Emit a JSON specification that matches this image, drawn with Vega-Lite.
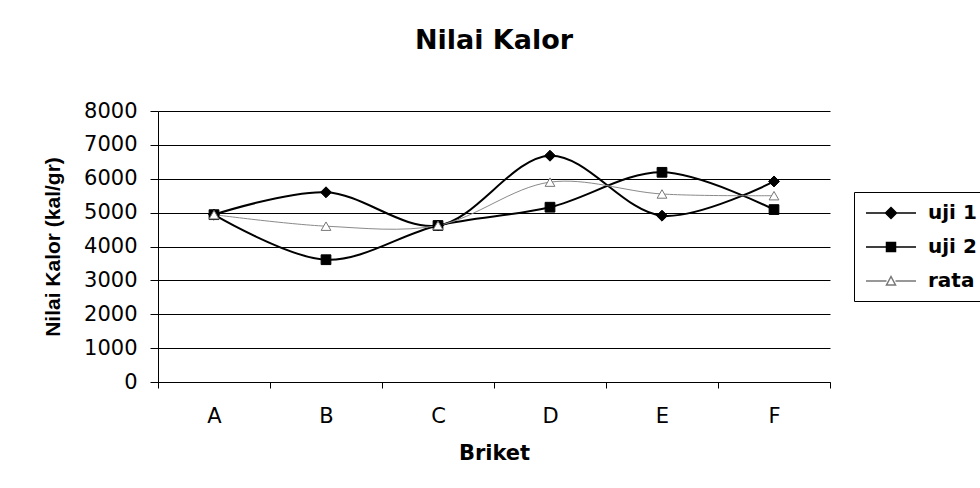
{
  "$schema": "https://vega.github.io/schema/vega-lite/v6.json",
  "width": 672,
  "height": 271,
  "autosize": {"type": "none"},
  "padding": {"left": 158, "top": 111, "right": 150, "bottom": 106},
  "background": "white",
  "config": {
    "view": {"stroke": null},
    "axis": {"gridColor": "black", "gridOpacity": 1, "gridWidth": 1, "domainColor": "black", "tickColor": "black", "labelColor": "black", "titleColor": "black"},
    "legend": {
      "title": null,
      "orient": "none",
      "legendX": 696,
      "legendY": 81,
      "strokeColor": "black",
      "fillColor": "white",
      "padding": 10,
      "symbolSize": 400,
      "symbolOffset": 16,
      "symbolOpacity": 1,
      "symbolStrokeWidth": 1.5,
      "labelOffset": 26,
      "rowPadding": 13,
      "labelFont": "DejaVu Sans",
      "labelFontWeight": "bold",
      "labelFontSize": 20,
      "labelColor": "black"
    }
  },
  "title": {
    "text": "Nilai Kalor",
    "font": "DejaVu Sans",
    "fontWeight": "bold",
    "fontSize": 27,
    "color": "black",
    "anchor": "middle",
    "frame": "group",
    "baseline": "alphabetic",
    "offset": 24
  },
  "data": {
    "values": [
      {"b": "A", "s": "uji 1", "v": 4940},
      {"b": "B", "s": "uji 1", "v": 5600},
      {"b": "C", "s": "uji 1", "v": 4620},
      {"b": "D", "s": "uji 1", "v": 6680},
      {"b": "E", "s": "uji 1", "v": 4910},
      {"b": "F", "s": "uji 1", "v": 5920},
      {"b": "A", "s": "uji 2", "v": 4940},
      {"b": "B", "s": "uji 2", "v": 3610},
      {"b": "C", "s": "uji 2", "v": 4620},
      {"b": "D", "s": "uji 2", "v": 5160},
      {"b": "E", "s": "uji 2", "v": 6190},
      {"b": "F", "s": "uji 2", "v": 5090},
      {"b": "A", "s": "rata", "v": 4940},
      {"b": "B", "s": "rata", "v": 4600},
      {"b": "C", "s": "rata", "v": 4620},
      {"b": "D", "s": "rata", "v": 5900},
      {"b": "E", "s": "rata", "v": 5550},
      {"b": "F", "s": "rata", "v": 5500}
    ]
  },
  "encoding": {
    "x": {
      "field": "b",
      "type": "nominal",
      "scale": {"paddingInner": 0, "paddingOuter": 0, "domain": ["A", "B", "C", "D", "E", "F"]},
      "axis": {
        "title": "Briket",
        "labelAngle": 0,
        "tickBand": "extent",
        "tickSize": 6,
        "labelPadding": 17,
        "labelFont": "DejaVu Sans",
        "labelFontSize": 21,
        "titleFont": "DejaVu Sans",
        "titleFontWeight": "bold",
        "titleFontSize": 21,
        "titlePadding": 16,
        "grid": false
      }
    },
    "y": {
      "field": "v",
      "type": "quantitative",
      "scale": {"domain": [0, 8000], "nice": false},
      "axis": {
        "title": "Nilai Kalor (kal/gr)",
        "values": [0, 1000, 2000, 3000, 4000, 5000, 6000, 7000, 8000],
        "format": "d",
        "tickSize": 8,
        "labelPadding": 13,
        "labelFont": "DejaVu Sans",
        "labelFontSize": 21,
        "titleFont": "Liberation Sans",
        "titleFontWeight": "bold",
        "titleFontSize": 21,
        "titlePadding": 20,
        "grid": true
      }
    }
  },
  "layer": [
    {
      "mark": {"type": "line", "interpolate": "catmull-rom"},
      "encoding": {
        "detail": {"field": "s", "type": "nominal"},
        "color": {"condition": {"test": "datum.s === 'rata'", "value": "#8a8a8a"}, "value": "black"},
        "strokeWidth": {"condition": {"test": "datum.s === 'rata'", "value": 1}, "value": 2}
      }
    },
    {
      "mark": {"type": "point", "opacity": 1, "strokeWidth": 1},
      "encoding": {
        "shape": {
          "condition": [
            {"test": "datum.s === 'uji 1'", "value": "diamond"},
            {"test": "datum.s === 'uji 2'", "value": "square"}
          ],
          "value": "triangle-up"
        },
        "fill": {"condition": {"test": "datum.s === 'rata'", "value": "white"}, "value": "black"},
        "stroke": {"condition": {"test": "datum.s === 'rata'", "value": "#777777"}, "value": "black"},
        "size": {"condition": {"test": "datum.s === 'uji 1'", "value": 120}, "value": 95}
      }
    },
    {
      "mark": {"type": "point", "opacity": 0, "filled": true, "strokeWidth": 1.5},
      "encoding": {
        "shape": {
          "field": "s",
          "type": "nominal",
          "scale": {
            "domain": ["uji 1", "uji 2", "rata"],
            "range": [
              "M-2.5,0H2.5M0,-0.55L0.55,0L0,0.55L-0.55,0Z",
              "M-2.5,0H2.5M-0.45,-0.45H0.45V0.45H-0.45Z",
              "M-2.5,0H-0.45M0.45,0H2.5M0,-0.45L0.45,0.4H-0.45Z"
            ]
          }
        },
        "fill": {
          "field": "s",
          "type": "nominal",
          "scale": {"domain": ["uji 1", "uji 2", "rata"], "range": ["black", "black", "white"]}
        },
        "stroke": {
          "field": "s",
          "type": "nominal",
          "scale": {"domain": ["uji 1", "uji 2", "rata"], "range": ["black", "black", "#777777"]}
        }
      }
    }
  ]
}
